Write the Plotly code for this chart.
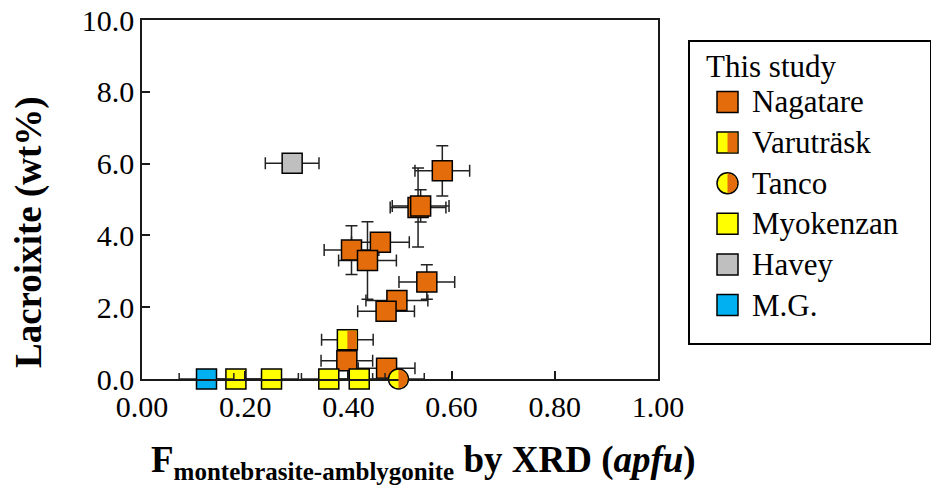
import plotly.graph_objects as go

# ---------------- data ----------------
nag_x = [0.582, 0.535, 0.540, 0.462, 0.406, 0.437, 0.552, 0.494, 0.473, 0.397, 0.474]
nag_y = [5.80, 4.78, 4.82, 3.81, 3.59, 3.30, 2.70, 2.19, 1.89, 0.51, 0.30]
nag_xerr = [0.053, 0.054, 0.055, 0.056, 0.053, 0.056, 0.054, 0.060, 0.055, 0.050, 0.055]
nag_yerr = [0.70, 1.10, 0.45, 0.20, 0.68, 1.08, 0.48, 0.10, 0.10, 0.10, 0.10]

var_x = [0.398]
var_y = [1.09]
var_xerr = [0.050]
var_yerr = [0.10]

tan_x = [0.497]
tan_y = [0.00]
tan_xerr = [0.050]
tan_yerr = [0.00]

myo_x = [0.182, 0.251, 0.362, 0.421]
myo_y = [0.00, 0.00, 0.00, 0.00]
myo_xerr = [0.050, 0.052, 0.053, 0.050]
myo_yerr = [0.00, 0.00, 0.00, 0.00]

hav_x = [0.291]
hav_y = [6.01]
hav_xerr = [0.052]
hav_yerr = [0.10]

mg_x = [0.125]
mg_y = [0.00]
mg_xerr = [0.053]
mg_yerr = [0.00]

x_ticks = [0.0, 0.2, 0.4, 0.6, 0.8, 1.0]
x_ticklabels = ["0.00", "0.20", "0.40", "0.60", "0.80", "1.00"]
y_ticks = [0, 2, 4, 6, 8, 10]
y_ticklabels = ["0.0", "2.0", "4.0", "6.0", "8.0", "10.0"]

x_title = "<b>F<sub><span style='font-size:25px'>montebrasite-amblygonite</span></sub> by XRD (<i>apfu</i>)</b>"
y_title = "<b>Lacroixite (wt%)</b>"
legend_title = "This study"
legend_names = ["Nagatare", "Varuträsk", "Tanco", "Myokenzan", "Havey", "M.G."]

# ---------------- styles ----------------
ORANGE = "#E46C0A"
YELLOW = "#FFFF00"
GRAY = "#BFBFBF"
BLUE = "#00B0F0"
FONT = "Liberation Serif"
MS = 20
LW = 1.5

W, H = 931, 491
ML, MR, MT, MB = 142, 0, 20, 112
PW = W - ML - MR
PH = H - MT - MB


def px_to_paper_x(px):
    return (px - ML) / PW


def px_to_paper_y(py):
    return (MT + PH - py) / PH


main_dom = [0, px_to_paper_x(658)]
leg_dom_x = [px_to_paper_x(690), px_to_paper_x(930)]
leg_dom_y = [px_to_paper_y(343), px_to_paper_y(42)]
X_RANGE = [0, 1]
Y_RANGE = [0, 10]

fig = go.Figure()


def err(arr):
    return dict(type="data", array=arr, visible=True, color="#222222", thickness=1.5, width=6)


def add_series(name, xs, ys, xe, ye, color, symbol="square"):
    fig.add_trace(go.Scatter(
        x=xs, y=ys, mode="markers", name=name, showlegend=False,
        error_x=err(xe), error_y=err(ye), cliponaxis=False,
        marker=dict(symbol=symbol, size=MS, color=color, line=dict(color="black", width=LW)),
    ))


add_series("Nagatare", nag_x, nag_y, nag_xerr, nag_yerr, ORANGE)
add_series("Varuträsk", var_x, var_y, var_xerr, var_yerr, YELLOW)
add_series("Tanco", tan_x, tan_y, tan_xerr, tan_yerr, YELLOW, "circle")
add_series("Myokenzan", myo_x, myo_y, myo_xerr, myo_yerr, YELLOW)
add_series("Havey", hav_x, hav_y, hav_xerr, hav_yerr, GRAY)
add_series("M.G.", mg_x, mg_y, mg_xerr, mg_yerr, BLUE)

# half-filled overlays (right half orange), sized in pixels, anchored at data points
h = MS / 2 - LW / 2 - 0.1
k = 0.5523 * h
HALF_SQ = f"M 0,{-h} L {h},{-h} L {h},{h} L 0,{h} Z"
HALF_CI = f"M 0,{-h} C {k},{-h} {h},{-k} {h},0 C {h},{k} {k},{h} 0,{h} Z"


def half(path, xa, ya, xref, yref):
    fig.add_shape(type="path", path=path, xsizemode="pixel", ysizemode="pixel",
                  xanchor=xa, yanchor=ya, xref=xref, yref=yref,
                  fillcolor=ORANGE, line=dict(width=0), layer="above")


for xv, yv in zip(var_x, var_y):
    half(HALF_SQ, xv, yv, "x", "y")
for xv, yv in zip(tan_x, tan_y):
    # paper reference in y so the half disc is not clipped at the x axis
    half(HALF_CI, xv, (yv - Y_RANGE[0]) / (Y_RANGE[1] - Y_RANGE[0]), "x", "paper")

# ---------------- legend (drawn on its own small axes) ----------------
leg_symbols = ["square", "square", "circle", "square", "square", "square"]
leg_colors = [ORANGE, YELLOW, YELLOW, YELLOW, GRAY, BLUE]
leg_rows = list(range(len(legend_names)))
ROW0_PX, ROW_STEP = 102, 40.6
ICON_X, TEXT_X, TITLE_X = 37.5, 60, 14
y2_range = [(343 - ROW0_PX) / ROW_STEP, (42 - ROW0_PX) / ROW_STEP]
title_row = (67 - ROW0_PX) / ROW_STEP

fig.add_trace(go.Scatter(
    x=[ICON_X] * len(leg_rows), y=leg_rows, mode="markers", showlegend=False,
    xaxis="x2", yaxis="y2", hoverinfo="skip",
    marker=dict(symbol=leg_symbols, size=MS + 1, color=leg_colors, line=dict(color="black", width=LW)),
))
hl = (MS + 1) / 2 - LW / 2 - 0.1
kl = 0.5523 * hl
half(f"M 0,{-hl} L {hl},{-hl} L {hl},{hl} L 0,{hl} Z", ICON_X, leg_rows[1], "x2", "y2")
half(f"M 0,{-hl} C {kl},{-hl} {hl},{-kl} {hl},0 C {hl},{kl} {kl},{hl} 0,{hl} Z", ICON_X, leg_rows[2], "x2", "y2")

fig.add_annotation(x=TITLE_X, y=title_row, xref="x2", yref="y2", text=legend_title,
                   showarrow=False, xanchor="left", yanchor="middle",
                   font=dict(family=FONT, size=31, color="black"))
for r, name in zip(leg_rows, legend_names):
    fig.add_annotation(x=TEXT_X, y=r, xref="x2", yref="y2", text=name,
                       showarrow=False, xanchor="left", yanchor="middle",
                       font=dict(family=FONT, size=31, color="black"))

# axis titles as annotations (placed as in the reference)
fig.add_annotation(x=px_to_paper_x(423), y=px_to_paper_y(462), xref="paper", yref="paper",
                   text=x_title, showarrow=False, xanchor="center", yanchor="middle",
                   font=dict(family=FONT, size=37, color="black"))
fig.add_annotation(x=px_to_paper_x(29), y=px_to_paper_y(232), xref="paper", yref="paper",
                   text=y_title, showarrow=False, xanchor="center", yanchor="middle",
                   textangle=-90, font=dict(family=FONT, size=37, color="black"))

# ---------------- layout ----------------
axis_common = dict(showline=True, linecolor="#1a1a1a", linewidth=1.5, mirror=True,
                   ticks="inside", ticklen=8, tickwidth=1.5, tickcolor="#1a1a1a",
                   showgrid=False, zeroline=False, automargin=False,
                   tickfont=dict(family=FONT, size=30, color="black"))
leg_axis = dict(showline=True, mirror=True, linecolor="black", linewidth=2,
                showticklabels=False, ticks="", showgrid=False, zeroline=False,
                fixedrange=True, automargin=False)

fig.update_layout(
    width=W, height=H, autosize=False,
    margin=dict(l=ML, r=MR, t=MT, b=MB, pad=0, autoexpand=False),
    paper_bgcolor="white", plot_bgcolor="white",
    font=dict(family=FONT, color="black"),
    xaxis=dict(domain=main_dom, range=X_RANGE, tickvals=x_ticks, ticktext=x_ticklabels,
               **axis_common),
    yaxis=dict(domain=[0, 1], range=Y_RANGE, tickvals=y_ticks, ticktext=y_ticklabels,
               **axis_common),
    xaxis2=dict(domain=leg_dom_x, range=[0, 240], anchor="y2", **leg_axis),
    yaxis2=dict(domain=leg_dom_y, range=y2_range, anchor="x2", **leg_axis),
)

fig.write_html("out.html", config={"displayModeBar": False},
               post_script="document.body.style.margin='0';")
